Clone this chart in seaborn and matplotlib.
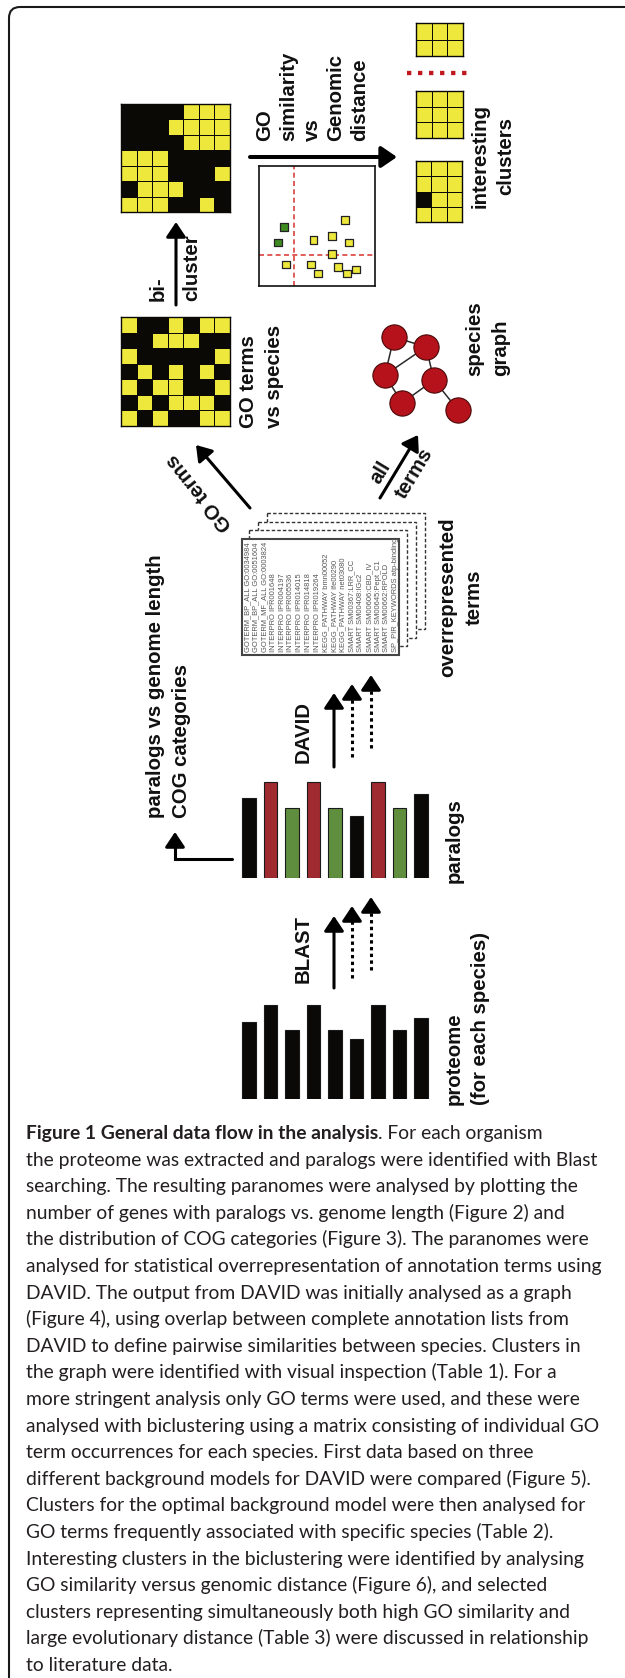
import numpy as np
import pandas as pd
import matplotlib
matplotlib.use("Agg")
import matplotlib.pyplot as plt
from matplotlib.colors import ListedColormap
from matplotlib.patches import FancyBboxPatch, Rectangle
import seaborn as sns

# ---- data ----
species = ["s1", "s2", "s3", "s4", "s5", "s6", "s7", "s8", "s9"]
proteome_size = [77, 94, 69, 94, 69, 60, 94, 69, 81]
paralog_size = [80, 96, 70, 96, 70, 62, 96, 70, 84]
paralog_kind = ["plain", "up", "down", "up", "down", "plain", "up", "down", "plain"]

go_vs_species = [
    [1, 0, 0, 1, 0, 1, 1],
    [0, 0, 1, 1, 1, 0, 0],
    [1, 0, 0, 0, 0, 0, 1],
    [0, 1, 0, 1, 0, 1, 0],
    [1, 0, 1, 1, 0, 0, 1],
    [0, 1, 0, 1, 1, 1, 0],
    [1, 0, 1, 0, 0, 1, 1],
]
biclustered = [
    [0, 0, 0, 0, 1, 1, 1],
    [0, 0, 0, 1, 1, 1, 1],
    [0, 0, 0, 0, 1, 1, 1],
    [1, 1, 1, 0, 0, 0, 0],
    [1, 1, 1, 0, 0, 0, 1],
    [0, 1, 1, 1, 0, 0, 0],
    [1, 1, 1, 0, 0, 1, 0],
]
cluster_a = [[1, 1, 1], [1, 1, 1]]
cluster_b = [[1, 1, 1], [1, 1, 1], [1, 1, 1]]
cluster_c = [[1, 1, 1], [1, 1, 1], [0, 1, 1], [1, 1, 1]]

genomic_dist = [2.18, 1.66, 7.41, 6.27, 4.71, 7.78, 6.27, 2.35, 4.49, 5.09, 6.81, 7.59, 8.36]
go_similarity = [4.94, 3.64, 5.5, 4.19, 3.83, 3.64, 2.69, 1.78, 1.78, 1.03, 1.58, 1.03, 1.39]
pair_group = ["hit", "hit"] + ["other"] * 11
dist_cut = 3.02
sim_cut = 2.58

node_x = [1.2, 2.48, 0.84, 2.8, 1.52, 3.76]
node_y = [3.52, 3.12, 2.0, 1.8, 0.88, 0.6]
graph_edges = [(0, 1), (0, 2), (1, 2), (2, 4), (1, 3), (3, 4), (3, 5)]

david_terms = [
    "GOTERM_BP_ALL GO:0034984", "GOTERM_BP_ALL GO:0051604", "GOTERM_MF_ALL GO:0003824",
    "INTERPRO IPR001648", "INTERPRO IPR004197", "INTERPRO IPR005536",
    "INTERPRO IPR014015", "INTERPRO IPR014818", "INTERPRO IPR019264",
    "KEGG_PATHWAY bmn00052", "KEGG_PATHWAY lfe00290", "KEGG_PATHWAY net03080",
    "SMART SM00367:LRR_CC", "SMART SM00408:IGc2", "SMART SM00606:CBD_IV",
    "SMART SM00645:Pept_C1", "SMART SM00662:RPOLD", "SP_PIR_KEYWORDS atp-binding",
]

caption_bold = "Figure 1 General data flow in the analysis"
caption_lines = [
    ". For each organism",
    "the proteome was extracted and paralogs were identified with Blast",
    "searching. The resulting paranomes were analysed by plotting the",
    "number of genes with paralogs vs. genome length (Figure 2) and",
    "the distribution of COG categories (Figure 3). The paranomes were",
    "analysed for statistical overrepresentation of annotation terms using",
    "DAVID. The output from DAVID was initially analysed as a graph",
    "(Figure 4), using overlap between complete annotation lists from",
    "DAVID to define pairwise similarities between species. Clusters in",
    "the graph were identified with visual inspection (Table 1). For a",
    "more stringent analysis only GO terms were used, and these were",
    "analysed with biclustering using a matrix consisting of individual GO",
    "term occurrences for each species. First data based on three",
    "different background models for DAVID were compared (Figure 5).",
    "Clusters for the optimal background model were then analysed for",
    "GO terms frequently associated with specific species (Table 2).",
    "Interesting clusters in the biclustering were identified by analysing",
    "GO similarity versus genomic distance (Figure 6), and selected",
    "clusters representing simultaneously both high GO similarity and",
    "large evolutionary distance (Table 3) were discussed in relationship",
    "to literature data.",
]

# ---- styling ----
YELLOW = "#efe83c"
BLACK = "#0b0906"
kind_colors = {"plain": BLACK, "up": "#b3161e", "down": "#5d9c31"}
LAB = "Liberation Sans"

sns.set_theme(style="white")
plt.rcParams["font.family"] = [LAB, "DejaVu Sans"]

W, H = 625, 1678
fig = plt.figure(figsize=(W / 100, H / 100), dpi=100)
bg = fig.add_axes([0, 0, 1, 1])
bg.set_xlim(0, W)
bg.set_ylim(H, 0)
bg.axis("off")


def box(x0, y0, x1, y1):
    return fig.add_axes([x0 / W, 1 - y1 / H, (x1 - x0) / W, (y1 - y0) / H])


def grid(x0, y0, x1, y1, m):
    ax = box(x0, y0, x1, y1)
    sns.heatmap(np.array(m), ax=ax, cmap=ListedColormap([BLACK, YELLOW]), vmin=0, vmax=1,
                cbar=False, linewidths=0.6, linecolor=BLACK,
                xticklabels=False, yticklabels=False)
    for s in ax.spines.values():
        s.set_visible(True)
        s.set_color(BLACK)
        s.set_linewidth(1.0)
    return ax


def bars(y_bottom, heights, kinds):
    ax = box(238.25, y_bottom - 100, 431.75, y_bottom)
    df = pd.DataFrame({"species": species, "size": heights, "kind": kinds})
    sns.barplot(data=df, x="species", y="size", hue="kind", palette=kind_colors,
                width=0.65, dodge=False, legend=False, edgecolor="#1a1a1a",
                linewidth=0.8, ax=ax)
    ax.set_xlim(-0.5, 8.5)
    ax.set_ylim(0, 100)
    ax.axis("off")
    ax.patch.set_alpha(0)


def arrow(x0, y0, x1, y1, lw=2.2, dotted=False, head=1.0):
    style = "-|>,head_length=%.2f,head_width=%.2f" % (0.45 * head, 0.3 * head)
    if dotted:
        n = np.hypot(x1 - x0, y1 - y0)
        ux, uy = (x1 - x0) / n, (y1 - y0) / n
        bg.plot([x0, x1 - ux * 10], [y0, y1 - uy * 10], color="black", lw=lw,
                ls=(0, (1.1, 1.1)), dash_capstyle="butt")
        bg.annotate("", xy=(x1, y1), xytext=(x1 - ux * 12, y1 - uy * 12),
                    arrowprops=dict(arrowstyle=style, lw=lw, color="black",
                                    shrinkA=0, shrinkB=0, mutation_scale=20))
    else:
        bg.annotate("", xy=(x1, y1), xytext=(x0, y0),
                    arrowprops=dict(arrowstyle=style, lw=lw, color="black",
                                    shrinkA=0, shrinkB=0, mutation_scale=20))


def label(x, y, s, ha="left", va="bottom", rot=90, ma="left", ls=1.45):
    bg.text(x, y, s, rotation=rot, ha=ha, va=va, multialignment=ma, linespacing=ls,
            fontsize=14.7, fontweight="bold", color="#111111")


# frame
bg.add_patch(FancyBboxPatch((9, 7), 1500, 2500, boxstyle="round,pad=0,rounding_size=11",
                            fc="none", ec="#1a1a1a", lw=1.5))

# matrices
grid(121, 104, 230, 212, biclustered)
grid(121, 317, 230, 426, go_vs_species)
grid(416, 23, 463, 56, cluster_a)
grid(416, 91, 463, 138, cluster_b)
grid(416, 161, 462, 222, cluster_c)
bg.plot([407, 467], [73, 73], color="#c0161e", lw=3.1, ls=(0, (1, 1.56)),
        dash_capstyle="butt")

# GO similarity vs genomic distance
ax = box(259, 166, 375, 286)
sns.scatterplot(x=genomic_dist, y=go_similarity, hue=pair_group,
                palette={"hit": "#3f8b22", "other": YELLOW}, marker="s", s=30,
                edgecolor="#222222", linewidth=0.9, legend=False, ax=ax, zorder=3)
ax.axvline(dist_cut, color="#d9413c", lw=1.2, ls=(0, (3, 2)))
ax.axhline(sim_cut, color="#d9413c", lw=1.2, ls=(0, (3, 2)))
ax.set_xlim(0, 10)
ax.set_ylim(0, 10)
ax.set_xticks([])
ax.set_yticks([])
for s in ax.spines.values():
    s.set_visible(True)
    s.set_color("#111111")
    s.set_linewidth(1.2)

# species graph
ax = box(364, 300, 489, 425)
for a, b in graph_edges:
    ax.plot([node_x[a], node_x[b]], [node_y[a], node_y[b]], color="#2a2a2a", lw=1.1, zorder=1)
sns.scatterplot(x=node_x, y=node_y, s=330, color="#b5121b", edgecolor="#4a0808",
                linewidth=0.8, ax=ax, zorder=2, clip_on=False)
ax.set_xlim(0, 5)
ax.set_ylim(0, 5)
ax.axis("off")
ax.patch.set_alpha(0)

# bar charts
bars(878, paralog_size, paralog_kind)
bars(1099, proteome_size, ["plain"] * 9)

# document stack
for i, (dx, dy) in enumerate([(25, -26), (16, -17), (7, -9)]):
    bg.add_patch(Rectangle((242 + dx, 539 + dy), 158, 116, fc="white", ec="#333333",
                           lw=1.0, ls=(0, (2.5, 1.5)), zorder=2))
bg.add_patch(Rectangle((242, 539), 157, 116, fc="white", ec="#444444", lw=1.5, zorder=3))
for i, t in enumerate(david_terms):
    bg.text(247.5 + i * 8.7, 652, t, rotation=90, ha="center", va="bottom",
            fontsize=5.4, color="#555555", zorder=4)

# arrows
arrow(250, 157, 397, 157, lw=2.9, head=1.05)
arrow(176, 305, 176, 222)
arrow(250, 508, 196, 445)
arrow(380, 498, 418, 435)
for x0, yb, yt, dot in [(334, 767, 693, False), (352, 757, 684, True), (371, 748, 675, True)]:
    arrow(x0, yb, x0, yt, dotted=dot)
for x0, yb, yt, dot in [(334, 988, 916, False), (352, 978, 906, True), (371, 970, 897, True)]:
    arrow(x0, yb, x0, yt, dotted=dot)
bg.plot([232, 175, 175], [859, 859, 845], color="black", lw=2.2, solid_joinstyle="miter")
arrow(175, 846, 175, 832)

# labels
label(255, 141, "GO\nsimilarity\nvs\nGenomic\ndistance", ls=1.32)
label(493, 156, "interesting\nclusters", ha="center", va="center", ma="center")
label(158, 301, "bi-", ha="center")
label(192, 301, "cluster", ha="center")
label(239, 428, "GO terms\nvs species")
label(465, 376, "species\ngraph")
label(461, 597, "overrepresented\nterms", ha="center", va="center", ma="center")
label(200, 492, "GO terms", ha="center", va="center", rot=129)
label(380, 472, "all", ha="center", va="center", rot=59)
label(414, 473, "terms", ha="center", va="center", rot=59)
label(146, 818, "paralogs vs genome length\nCOG categories")
label(294, 763, "DAVID")
label(445, 883, "paralogs")
label(294, 983, "BLAST")
label(445, 1105, "proteome\n(for each species)")

# caption
CAP = ["Lato", "DejaVu Sans"]
FS = 13.9
t0 = bg.text(26, 1139, caption_bold, fontsize=FS, fontweight="bold", family=CAP,
             color="#231f20", va="baseline")
bg.annotate(caption_lines[0], xy=(1, 0), xycoords=t0, fontsize=FS, family=CAP,
            color="#231f20", va="bottom", ha="left")
for i, line in enumerate(caption_lines[1:], start=1):
    bg.text(26, 1139 + i * 26.6, line, fontsize=FS, family=CAP, color="#231f20",
            va="baseline")

fig.savefig("out.png", dpi=100)
